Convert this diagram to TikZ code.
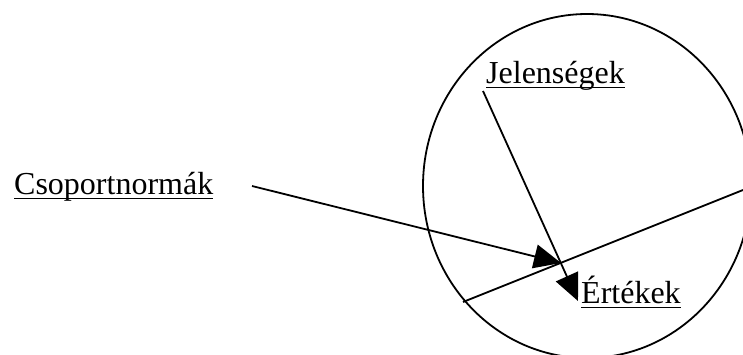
\documentclass[tikz,border=0pt]{standalone}
\usepackage{fontspec}
\setmainfont{Liberation Serif}
\usetikzlibrary{arrows.meta}
\begin{document}
\begin{tikzpicture}[x=1pt,y=-1pt,
  lbl/.style={inner sep=0pt,anchor=base west,font=\fontsize{32}{38}\selectfont},
  ln/.style={line width=1.8pt},
  uline/.style={line width=1.6pt},
  arr/.style={ln,-{Triangle[length=27pt,width=24pt]}}]
\useasboundingbox (0,0) rectangle (743,354);
\begin{scope}
\clip (0,0) rectangle (743,354);
\draw[ln] (587,186) ellipse [x radius=164, y radius=172];
\end{scope}
\node[lbl] (csop) at (14,194) {Csoportnormák};
\node[lbl] (jel) at (486,83) {Jelenségek};
\node[lbl] (ert) at (581,303) {Értékek};
\foreach \n in {csop,jel,ert}
  \draw[uline] ([yshift=-4.5pt]\n.base west) -- ([yshift=-4.5pt]\n.base east);
\coordinate (cstart) at (252,186);
\coordinate (ctip) at (561,263);
\coordinate (jstart) at (483,91);
\coordinate (jtip) at (578,301);
\coordinate (lA) at (463,302);
\coordinate (lB) at (743,190);
\draw[ln] (lA) -- (lB);
\draw[arr] (cstart) -- (ctip);
\draw[arr] (jstart) -- (jtip);
\end{tikzpicture}
\end{document}
